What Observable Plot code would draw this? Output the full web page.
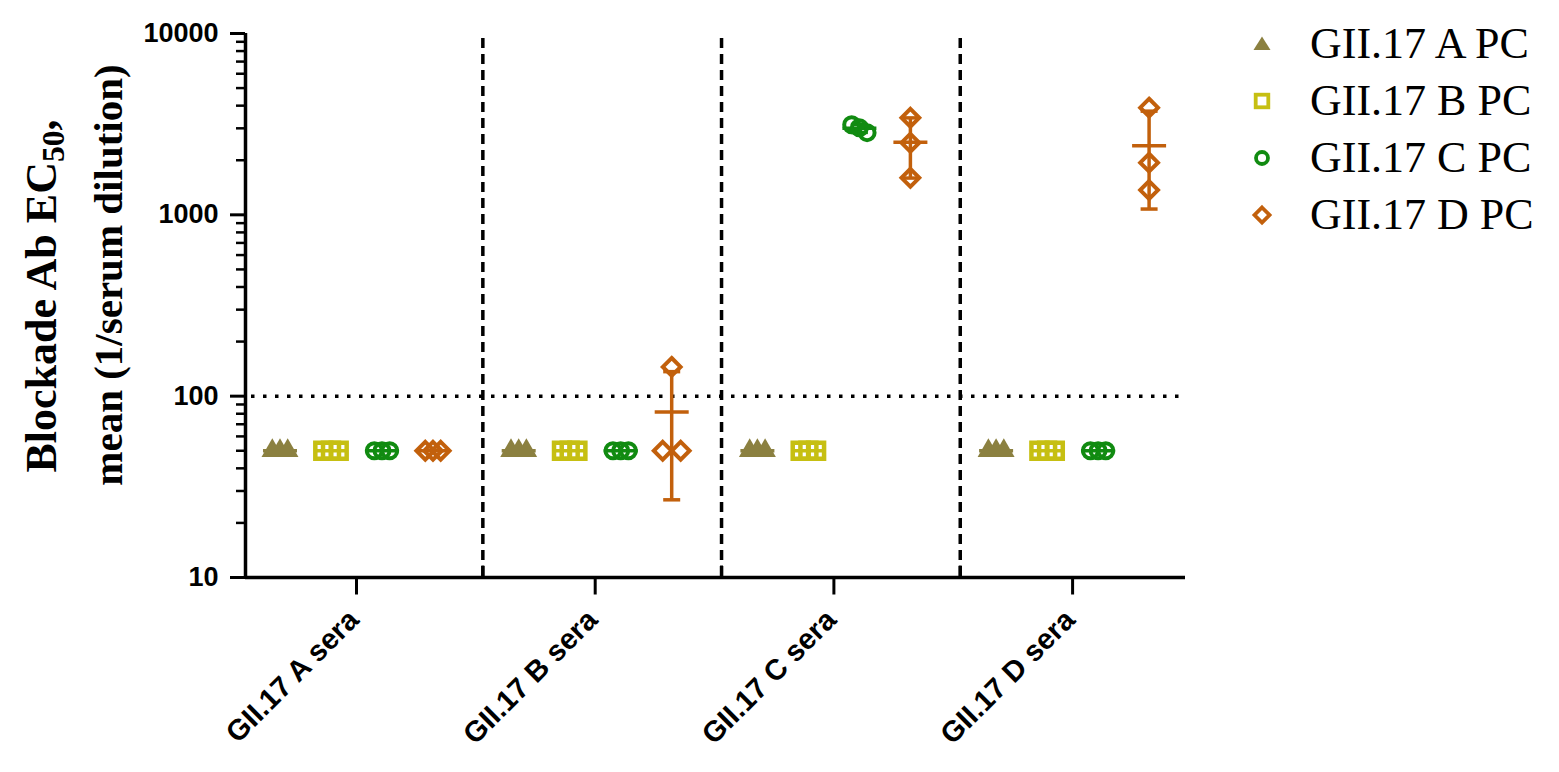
<!DOCTYPE html>
<html>
<head>
<meta charset="utf-8">
<script src="https://cdn.jsdelivr.net/npm/d3@7"></script>
<script src="https://cdn.jsdelivr.net/npm/@observablehq/plot@0.6"></script>
<style>
  html, body { margin: 0; padding: 0; background: #fff; }
  #wrap { position: relative; width: 1559px; height: 772px; overflow: hidden; background: #fff; }
  .ylab { position: absolute; width: 600px; text-align: center; white-space: nowrap;
          font-family: "Liberation Serif", "Times New Roman", Times, "DejaVu Serif", serif; font-weight: bold;
          font-size: 41px; line-height: 41px; color: #000;
          transform: translate(-50%, -50%) rotate(-90deg); }
  .ylab sub { font-size: 0.72em; vertical-align: -0.28em; line-height: 0; }
  #legend { position: absolute; left: 1248px; top: 15px; font-family: "Liberation Serif", "Times New Roman", Times, serif;
            font-size: 44px; color: #000; }
  #legend .row { display: flex; align-items: center; height: 57px; }
  #legend svg { width: 28px; height: 28px; margin-right: 34px; flex: none; }
</style>
</head>
<body>
<div id="wrap"></div>
<script>
// ---------- data ----------
const groups = ["GII.17 A sera", "GII.17 B sera", "GII.17 C sera", "GII.17 D sera"];
const seriesNames = ["GII.17 A PC", "GII.17 B PC", "GII.17 C PC", "GII.17 D PC"];
const seriesColors = ["#8b8040", "#c6bf12", "#118b11", "#c2600c"];
// three replicate values per sera group (rows = sera A..D)
const valuesAPC = [[50, 50, 50], [50, 50, 50], [50, 50, 50], [50, 50, 50]];
const valuesBPC = [[50, 50, 50], [50, 50, 50], [50, 50, 50], [50, 50, 50]];
const valuesCPC = [[50, 50, 50], [50, 50, 50], [3140, 3020, 2840], [50, 50, 50]];
const valuesDPC = [[50, 50, 50], [145, 50, 50], [3430, 2500, 1600], [3900, 1940, 1370]];
const yTicks = [10, 100, 1000, 10000];
const yMinorTicks = [20,30,40,50,60,70,80,90,200,300,400,500,600,700,800,900,2000,3000,4000,5000,6000,7000,8000,9000];
const thresholdValue = 100;

// ---------- layout ----------
const W = 1559, H = 772, mL = 245, mR = 374, mT = 33, mB = 195;
const xDomain = [-0.465, 3.473];
const ppu = (W - mL - mR) / (xDomain[1] - xDomain[0]);
const seriesStepPx = 51;
const allValues = [valuesAPC, valuesBPC, valuesCPC, valuesDPC];

const points = [], stats = [];
allValues.forEach((vals, s) => {
  vals.forEach((reps, g) => {
    const cx = g + (s - 1.5) * seriesStepPx / ppu;
    // spread overlapping replicates horizontally (descending value left to right)
    const sorted = reps.map((v, i) => ({v, i})).sort((a, b) => b.v - a.v);
    const clusters = [];
    sorted.forEach(p => {
      const last = clusters[clusters.length - 1];
      if (last && Math.abs(Math.log10(last[last.length - 1].v) - Math.log10(p.v)) < 0.06) last.push(p);
      else clusters.push([p]);
    });
    clusters.forEach(c => {
      const step = c.length === 2 ? 18 : 7.7;
      c.forEach((p, k) => {
        points.push({s, g, v: p.v, x: cx + (k - (c.length - 1) / 2) * step / ppu, name: seriesNames[s]});
      });
    });
    const m = d3.mean(reps), sd = d3.deviation(reps) || 0;
    stats.push({s, g, x: cx, mean: m, lo: m - sd, hi: m + sd, sd, name: seriesNames[s]});
  });
});

// custom line symbols
const hbar = (h) => ({draw(ctx) { ctx.moveTo(-h, 0); ctx.lineTo(h, 0); }});
const vtick = (y0, y1) => ({draw(ctx) { ctx.moveTo(0, y0); ctx.lineTo(0, y1); }});

const symbolFor = ["triangle", "square", "circle", "diamond2"];
const rFor = [8, 9, 7.5, 8];
const swFor = [0, 4.5, 4, 4];

const separators = [0.5, 1.5, 2.5];
const font = "Liberation Sans, Arial, Helvetica, sans-serif";

const marks = [
  // threshold dotted line
  Plot.ruleY([thresholdValue], {stroke: "#000", strokeWidth: 3.5, strokeDasharray: "3.5 8.5", insetLeft: 6}),
  // dashed separators
  Plot.ruleX(separators, {stroke: "#000", strokeWidth: 3.5, strokeDasharray: "10 6", dx: 7, insetTop: 5}),
  Plot.dot(separators, {x: d => d, frameAnchor: "bottom", symbol: vtick(-12, 0), stroke: "#000", strokeWidth: 3, fill: "none", dx: 7}),
  // axis lines
  Plot.ruleX([xDomain[0]], {y1: yTicks[0], y2: yTicks[yTicks.length - 1], stroke: "#000", strokeWidth: 3.5}),
  Plot.ruleY([yTicks[0]], {stroke: "#000", strokeWidth: 3.5}),
  // category ticks
  Plot.dot(groups, {x: (d, i) => i, frameAnchor: "bottom", symbol: vtick(0, 17), stroke: "#000", strokeWidth: 3, fill: "none"}),
  // y axis
  Plot.axisY({ticks: yMinorTicks, tickSize: 9, tickFormat: () => "", strokeWidth: 2.5, label: null}),
  Plot.axisY({ticks: yTicks, tickSize: 15, tickPadding: 12, tickFormat: d => String(d), strokeWidth: 3,
              fontSize: 27, fontWeight: "bold", fontFamily: font, label: null}),
  // x labels
  Plot.text(groups, {x: (d, i) => i, frameAnchor: "bottom", text: d => d, rotate: -45, textAnchor: "end",
                     dx: 4, dy: 44, fontSize: 29, fontWeight: "bold", fontFamily: font, fill: "#000"}),
  // error bars
  Plot.ruleX(stats.filter(d => d.sd > 0), {x: "x", y1: "lo", y2: "hi", stroke: "name", strokeWidth: 3.5}),
  Plot.dot(stats.filter(d => d.sd > 0), {x: "x", y: "lo", symbol: hbar(8.5), stroke: "name", strokeWidth: 3.5, fill: "none"}),
  Plot.dot(stats.filter(d => d.sd > 0), {x: "x", y: "hi", symbol: hbar(8.5), stroke: "name", strokeWidth: 3.5, fill: "none"}),
  Plot.dot(stats, {x: "x", y: "mean", symbol: hbar(17), stroke: "name", strokeWidth: 3.5, fill: "none"}),
];
// points per series
seriesNames.forEach((name, s) => {
  const pts = points.filter(p => p.s === s);
  if (s === 0) {
    marks.push(Plot.dot(pts, {x: "x", y: "v", symbol: symbolFor[s], r: rFor[s], fill: "name", stroke: "none"}));
  } else {
    marks.push(Plot.dot(pts, {x: "x", y: "v", symbol: symbolFor[s], r: rFor[s], fill: "none", stroke: "name", strokeWidth: swFor[s]}));
  }
});

const chart = Plot.plot({
  width: W, height: H,
  marginLeft: mL, marginRight: mR, marginTop: mT, marginBottom: mB,
  style: {fontFamily: font, background: "#fff", color: "#000", overflow: "visible"},
  x: {type: "linear", domain: xDomain, axis: null},
  y: {type: "log", domain: [yTicks[0], yTicks[yTicks.length - 1]], axis: null},
  color: {domain: seriesNames, range: seriesColors},
  marks
});
const wrap = document.getElementById("wrap");
wrap.appendChild(chart);

// y-axis title
const l1 = document.createElement("div");
l1.className = "ylab";
l1.style.left = "41px"; l1.style.top = "296px"; l1.style.fontSize = "44px";
l1.innerHTML = "Blockade Ab EC<sub>50</sub>,";
const l2 = document.createElement("div");
l2.className = "ylab";
l2.style.left = "108px"; l2.style.top = "275px";
l2.textContent = "mean (1/serum dilution)";
wrap.appendChild(l1); wrap.appendChild(l2);

// legend
const legend = document.createElement("div");
legend.id = "legend";
const ns = "http://www.w3.org/2000/svg";
seriesNames.forEach((name, s) => {
  const row = document.createElement("div");
  row.className = "row";
  const svg = document.createElementNS(ns, "svg");
  svg.setAttribute("viewBox", "-14 -14 28 28");
  const c = seriesColors[s];
  let el;
  if (s === 0) {
    el = document.createElementNS(ns, "path");
    el.setAttribute("d", "M0,-7.5 L8.5,6 L-8.5,6 Z");
    el.setAttribute("fill", c);
  } else if (s === 1) {
    el = document.createElementNS(ns, "rect");
    el.setAttribute("x", -6.3); el.setAttribute("y", -6.3); el.setAttribute("width", 12.6); el.setAttribute("height", 12.6);
    el.setAttribute("fill", "none"); el.setAttribute("stroke", c); el.setAttribute("stroke-width", 3.8);
  } else if (s === 2) {
    el = document.createElementNS(ns, "circle");
    el.setAttribute("r", 6);
    el.setAttribute("fill", "none"); el.setAttribute("stroke", c); el.setAttribute("stroke-width", 3.8);
  } else {
    el = document.createElementNS(ns, "path");
    el.setAttribute("d", "M0,-7.5 L7.5,0 L0,7.5 L-7.5,0 Z");
    el.setAttribute("fill", "none"); el.setAttribute("stroke", c); el.setAttribute("stroke-width", 3.8);
  }
  svg.appendChild(el);
  const t = document.createElement("span");
  t.textContent = name;
  row.appendChild(svg); row.appendChild(t);
  legend.appendChild(row);
});
wrap.appendChild(legend);
</script>
</body>
</html>
